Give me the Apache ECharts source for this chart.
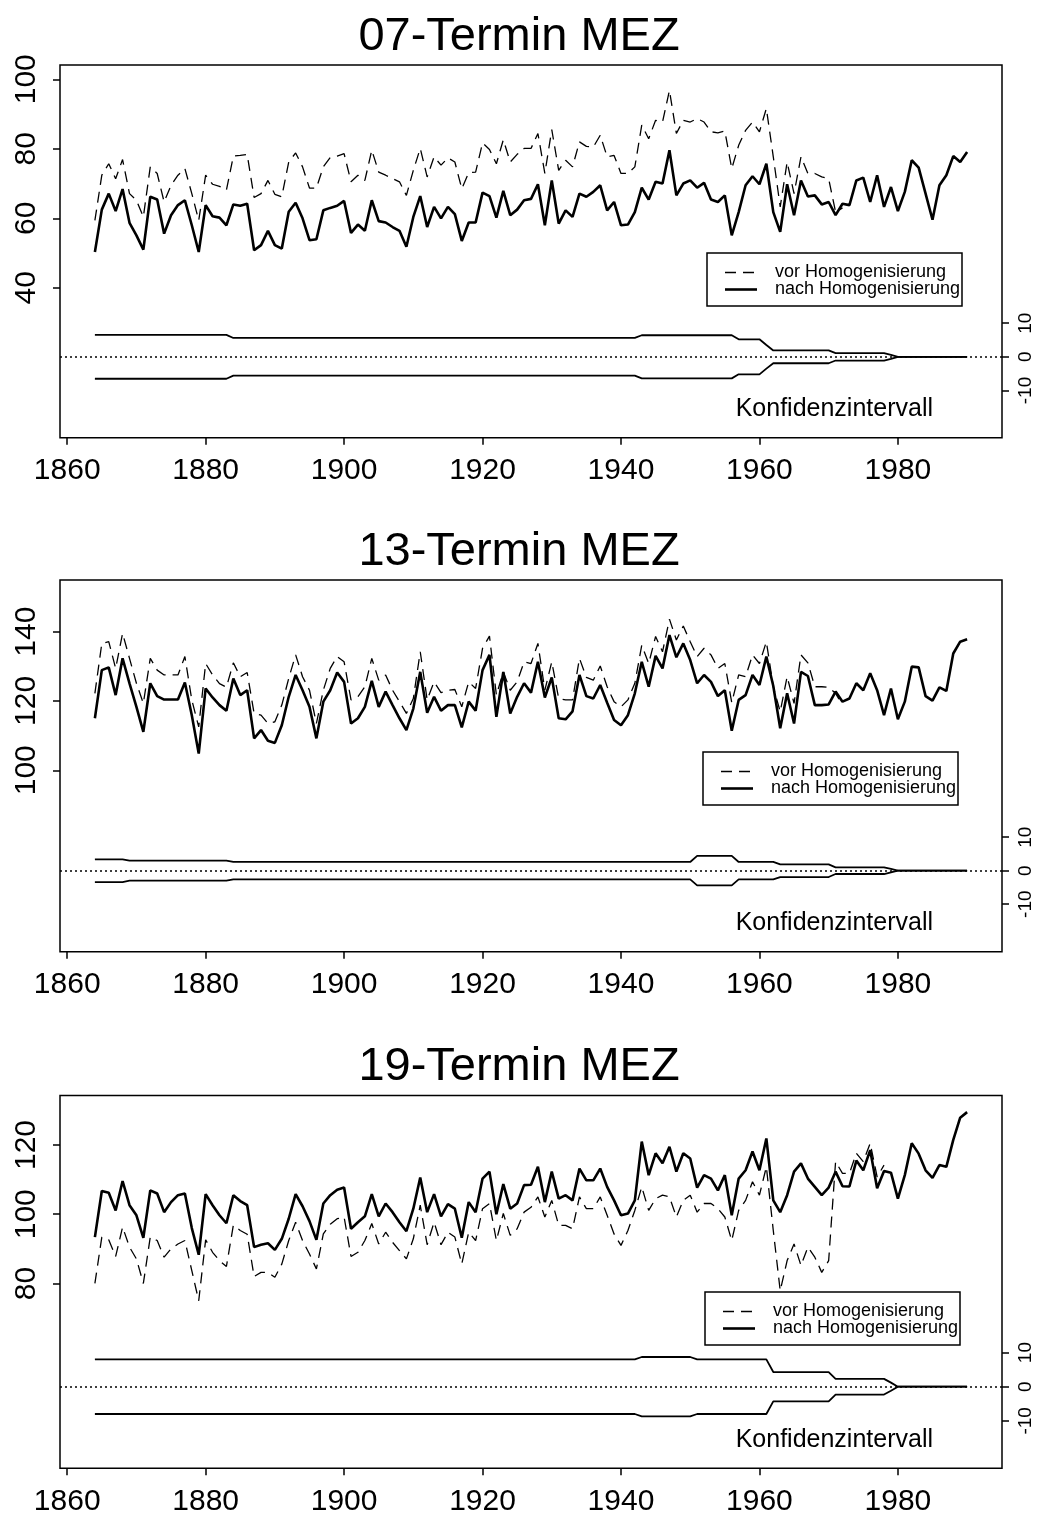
<!DOCTYPE html>
<html>
<head>
<meta charset="utf-8">
<title>Homogenisierung – Termine 07, 13, 19 MEZ</title>
<script src="https://cdn.jsdelivr.net/npm/echarts@6/dist/echarts.min.js"></script>
<style>
  html, body { margin: 0; padding: 0; background: #fff; }
  #chart { width: 1038px; height: 1523px; }
</style>
</head>
<body>
<div id="chart"></div>
<script>
// ---------------------------------------------------------------------------
// Data: yearly values 1864–1990, one value per year
// ---------------------------------------------------------------------------
const FIRST_YEAR = 1864;
const LAST_YEAR = 1990;

const xTicks = [1860, 1880, 1900, 1920, 1940, 1960, 1980];
const ciTicks = [-10, 0, 10];
const yTicks07 = [40, 60, 80, 100];
const yTicks13 = [100, 120, 140];
const yTicks19 = [80, 100, 120];

const titles = ['07-Termin MEZ', '13-Termin MEZ', '19-Termin MEZ'];
const seriesNames = ['vor Homogenisierung', 'nach Homogenisierung'];
const ciLabel = 'Konfidenzintervall';

// 07 MEZ
const vor07 = [
  59.4, 72.4, 75.7, 71.4, 76.9, 67.1,
  65.2, 60.4, 74.8, 72.9, 64.7, 69.5, 72.4, 74.3, 67.1, 59.4,
  72.4, 69.8, 69.2, 68.1, 77.9, 78.1, 78.4, 66.0, 67.1, 70.9,
  66.9, 66.2, 76.2, 78.8, 74.8, 68.7, 68.7, 74.8, 77.5, 77.9,
  78.6, 70.5, 72.4, 70.9, 79.6, 73.3, 72.4, 71.4, 70.5, 66.6,
  73.8, 80.1, 71.9, 77.7, 75.3, 77.4, 76.2, 68.5, 73.1, 73.3,
  81.7, 79.8, 75.7, 82.6, 76.2, 78.4, 80.1, 80.1, 84.4, 72.9,
  85.5, 73.8, 76.7, 74.8, 82.0, 80.7, 80.5, 83.9, 77.7, 78.1,
  72.9, 72.9, 74.8, 86.8, 82.9, 88.2, 87.7, 96.8, 84.4, 88.2,
  87.7, 88.7, 87.7, 84.9, 84.6, 85.1, 74.3, 81.0, 85.3, 87.7,
  84.9, 91.6, 77.7, 63.3, 76.2, 67.1, 77.7, 72.9, 72.9, 71.9,
  71.4, 61.8, 63.0, null, null, null, null, null, null, null,
  null, null, null, null, null, null, null, null, null, null,
  null
];
const nach07 = [
  50.3, 62.5, 67.1, 62.1, 68.4, 58.7,
  55.1, 51.0, 66.2, 65.4, 55.6, 60.9, 63.8, 65.2, 58.0, 50.3,
  63.8, 60.6, 60.2, 58.0, 64.0, 63.6, 64.2, 50.8, 52.3, 56.4,
  52.3, 51.3, 61.9, 64.5, 60.0, 53.7, 54.0, 62.3, 63.0, 63.6,
  65.0, 55.8, 58.2, 56.4, 65.2, 59.2, 58.8, 57.5, 56.4, 51.8,
  60.4, 66.4, 57.5, 63.3, 60.0, 63.3, 61.2, 53.5, 58.8, 58.8,
  67.4, 66.4, 60.2, 67.9, 60.9, 62.5, 65.2, 65.6, 69.8, 58.0,
  70.9, 58.5, 62.3, 60.4, 67.1, 66.2, 67.6, 69.5, 62.3, 64.7,
  58.0, 58.2, 61.8, 68.8, 65.4, 70.5, 70.0, 79.6, 66.6, 70.0,
  70.9, 68.8, 70.2, 65.4, 64.7, 66.6, 55.1, 61.8, 69.5, 72.1,
  69.8, 75.7, 61.8, 56.1, 69.8, 60.9, 70.9, 66.3, 66.6, 64.0,
  64.7, 60.9, 64.2, 63.8, 70.9, 71.7, 64.7, 72.4, 63.3, 69.0,
  62.1, 67.6, 76.7, 74.6, 67.1, 59.6, 69.5, 72.4, 77.9, 76.2,
  79.1
];
const ci07Upper = [
  6.5, 6.5, 6.5, 6.5, 6.5, 6.5,
  6.5, 6.5, 6.5, 6.5, 6.5, 6.5, 6.5, 6.5, 6.5, 6.5,
  6.5, 6.5, 6.5, 6.5, 5.6, 5.6, 5.6, 5.6, 5.6, 5.6,
  5.6, 5.6, 5.6, 5.6, 5.6, 5.6, 5.6, 5.6, 5.6, 5.6,
  5.6, 5.6, 5.6, 5.6, 5.6, 5.6, 5.6, 5.6, 5.6, 5.6,
  5.6, 5.6, 5.6, 5.6, 5.6, 5.6, 5.6, 5.6, 5.6, 5.6,
  5.6, 5.6, 5.6, 5.6, 5.6, 5.6, 5.6, 5.6, 5.6, 5.6,
  5.6, 5.6, 5.6, 5.6, 5.6, 5.6, 5.6, 5.6, 5.6, 5.6,
  5.6, 5.6, 5.6, 6.4, 6.4, 6.4, 6.4, 6.4, 6.4, 6.4,
  6.4, 6.4, 6.4, 6.4, 6.4, 6.4, 6.4, 5.2, 5.2, 5.2,
  5.2, 3.5, 1.9, 1.9, 1.9, 1.9, 1.9, 1.9, 1.9, 1.9,
  1.9, 1.1, 1.1, 1.1, 1.1, 1.1, 1.1, 1.1, 1.1, 0.6,
  0, 0, 0, 0, 0, 0, 0, 0, 0, 0,
  0
];
const ci07Lower = [
  -6.5, -6.5, -6.5, -6.5, -6.5, -6.5,
  -6.5, -6.5, -6.5, -6.5, -6.5, -6.5, -6.5, -6.5, -6.5, -6.5,
  -6.5, -6.5, -6.5, -6.5, -5.6, -5.6, -5.6, -5.6, -5.6, -5.6,
  -5.6, -5.6, -5.6, -5.6, -5.6, -5.6, -5.6, -5.6, -5.6, -5.6,
  -5.6, -5.6, -5.6, -5.6, -5.6, -5.6, -5.6, -5.6, -5.6, -5.6,
  -5.6, -5.6, -5.6, -5.6, -5.6, -5.6, -5.6, -5.6, -5.6, -5.6,
  -5.6, -5.6, -5.6, -5.6, -5.6, -5.6, -5.6, -5.6, -5.6, -5.6,
  -5.6, -5.6, -5.6, -5.6, -5.6, -5.6, -5.6, -5.6, -5.6, -5.6,
  -5.6, -5.6, -5.6, -6.4, -6.4, -6.4, -6.4, -6.4, -6.4, -6.4,
  -6.4, -6.4, -6.4, -6.4, -6.4, -6.4, -6.4, -5.2, -5.2, -5.2,
  -5.2, -3.5, -1.9, -1.9, -1.9, -1.9, -1.9, -1.9, -1.9, -1.9,
  -1.9, -1.1, -1.1, -1.1, -1.1, -1.1, -1.1, -1.1, -1.1, -0.6,
  0, 0, 0, 0, 0, 0, 0, 0, 0, 0,
  0
];

// 13 MEZ
const vor13 = [
  122.2, 136.6, 137.1, 129.4, 139.5, 132.3,
  125.1, 119.3, 132.3, 128.9, 127.5, 127.5, 127.5, 132.8, 120.3, 112.5,
  130.8, 127.5, 125.0, 124.0, 131.0, 127.0, 128.2, 116.4, 115.9, 113.5,
  114.0, 118.8, 126.5, 133.3, 127.0, 123.1, 113.5, 123.1, 129.4, 132.8,
  131.3, 120.3, 121.2, 124.1, 132.3, 126.0, 127.5, 123.1, 119.8, 116.4,
  120.7, 134.2, 120.3, 125.5, 122.4, 123.1, 123.3, 118.3, 125.5, 123.6,
  135.2, 138.7, 121.7, 128.4, 123.1, 125.5, 131.3, 130.8, 136.6, 123.1,
  131.3, 120.7, 120.3, 120.3, 132.3, 126.8, 126.0, 130.1, 124.1, 119.8,
  118.3, 120.3, 125.1, 136.1, 130.8, 138.6, 134.2, 143.6, 137.6, 141.6,
  137.1, 132.8, 135.2, 133.3, 129.4, 130.8, 119.5, 127.5, 127.0, 133.3,
  130.8, 137.1, 124.1, 116.9, 127.0, 119.3, 133.3, 131.0, 124.1, 124.1,
  123.9, 122.2, 118.8, null, null, null, null, null, null, null,
  null, null, null, null, null, null, null, null, null, null,
  null
];
const nach13 = [
  115.0, 128.9, 129.7, 121.7, 132.3, 125.1,
  118.3, 111.1, 125.1, 121.4, 120.4, 120.4, 120.4, 125.3, 115.9, 104.8,
  123.6, 121.0, 118.8, 117.2, 126.5, 121.7, 123.1, 109.2, 111.6, 108.5,
  107.9, 113.0, 121.2, 127.5, 123.1, 118.3, 109.2, 119.8, 123.1, 128.2,
  125.5, 113.5, 115.0, 118.3, 125.8, 118.3, 122.7, 118.8, 115.0, 111.6,
  117.8, 128.4, 116.6, 121.2, 117.2, 118.8, 118.8, 112.4, 119.8, 117.2,
  128.9, 133.3, 115.4, 128.4, 116.4, 121.2, 125.1, 122.4, 131.3, 121.0,
  126.8, 115.0, 114.7, 117.0, 127.5, 121.4, 120.7, 124.6, 119.5, 114.5,
  113.0, 115.9, 122.2, 131.3, 124.1, 133.0, 129.4, 139.0, 132.6, 136.6,
  131.8, 125.1, 127.5, 125.5, 121.4, 123.1, 111.4, 120.3, 121.7, 127.5,
  124.6, 132.8, 124.3, 112.1, 122.2, 113.5, 128.4, 127.2, 118.8, 118.8,
  119.0, 122.7, 119.8, 120.7, 125.1, 123.1, 128.0, 123.1, 115.9, 123.6,
  114.7, 119.8, 129.9, 129.7, 121.4, 120.1, 123.9, 122.9, 133.7, 137.1,
  137.8
];
const ci13Upper = [
  3.4, 3.4, 3.4, 3.4, 3.4, 3.0,
  3.0, 3.0, 3.0, 3.0, 3.0, 3.0, 3.0, 3.0, 3.0, 3.0,
  3.0, 3.0, 3.0, 3.0, 2.6, 2.6, 2.6, 2.6, 2.6, 2.6,
  2.6, 2.6, 2.6, 2.6, 2.6, 2.6, 2.6, 2.6, 2.6, 2.6,
  2.6, 2.6, 2.6, 2.6, 2.6, 2.6, 2.6, 2.6, 2.6, 2.6,
  2.6, 2.6, 2.6, 2.6, 2.6, 2.6, 2.6, 2.6, 2.6, 2.6,
  2.6, 2.6, 2.6, 2.6, 2.6, 2.6, 2.6, 2.6, 2.6, 2.6,
  2.6, 2.6, 2.6, 2.6, 2.6, 2.6, 2.6, 2.6, 2.6, 2.6,
  2.6, 2.6, 2.6, 2.6, 2.6, 2.6, 2.6, 2.6, 2.6, 2.6,
  2.6, 4.4, 4.4, 4.4, 4.4, 4.4, 4.4, 2.6, 2.6, 2.6,
  2.6, 2.6, 2.6, 1.9, 1.9, 1.9, 1.9, 1.9, 1.9, 1.9,
  1.9, 1.0, 1.0, 1.0, 1.0, 1.0, 1.0, 1.0, 1.0, 0.5,
  0, 0, 0, 0, 0, 0, 0, 0, 0, 0,
  0
];
const ci13Lower = [
  -3.4, -3.4, -3.4, -3.4, -3.4, -3.0,
  -3.0, -3.0, -3.0, -3.0, -3.0, -3.0, -3.0, -3.0, -3.0, -3.0,
  -3.0, -3.0, -3.0, -3.0, -2.6, -2.6, -2.6, -2.6, -2.6, -2.6,
  -2.6, -2.6, -2.6, -2.6, -2.6, -2.6, -2.6, -2.6, -2.6, -2.6,
  -2.6, -2.6, -2.6, -2.6, -2.6, -2.6, -2.6, -2.6, -2.6, -2.6,
  -2.6, -2.6, -2.6, -2.6, -2.6, -2.6, -2.6, -2.6, -2.6, -2.6,
  -2.6, -2.6, -2.6, -2.6, -2.6, -2.6, -2.6, -2.6, -2.6, -2.6,
  -2.6, -2.6, -2.6, -2.6, -2.6, -2.6, -2.6, -2.6, -2.6, -2.6,
  -2.6, -2.6, -2.6, -2.6, -2.6, -2.6, -2.6, -2.6, -2.6, -2.6,
  -2.6, -4.4, -4.4, -4.4, -4.4, -4.4, -4.4, -2.6, -2.6, -2.6,
  -2.6, -2.6, -2.6, -1.9, -1.9, -1.9, -1.9, -1.9, -1.9, -1.9,
  -1.9, -1.0, -1.0, -1.0, -1.0, -1.0, -1.0, -1.0, -1.0, -0.5,
  0, 0, 0, 0, 0, 0, 0, 0, 0, 0,
  0
];

// 19 MEZ
const vor19 = [
  80.0, 93.4, 92.6, 87.8, 96.3, 90.5,
  87.1, 80.0, 93.4, 92.4, 87.6, 90.0, 91.4, 92.4, 83.7, 75.0,
  92.6, 89.0, 86.6, 84.9, 96.8, 95.3, 94.2, 82.0, 83.2, 83.2,
  81.8, 85.6, 92.4, 97.7, 92.4, 88.5, 84.2, 94.3, 97.1, 98.7,
  99.2, 87.8, 89.0, 92.4, 97.3, 91.4, 94.8, 91.9, 89.5, 87.1,
  92.9, 102.6, 91.2, 97.7, 91.2, 94.8, 93.4, 85.6, 94.8, 92.4,
  101.6, 103.1, 92.4, 100.2, 93.9, 95.8, 100.6, 102.0, 105.0, 99.2,
  104.0, 96.8, 96.8, 95.8, 105.0, 101.6, 101.6, 105.0, 99.7, 94.3,
  91.0, 95.3, 101.1, 107.9, 101.1, 104.5, 105.5, 105.0, 99.2, 104.0,
  105.5, 100.6, 103.1, 103.1, 101.6, 99.2, 92.4, 101.1, 104.0, 109.4,
  105.5, 113.7, 95.3, 77.9, 86.6, 91.4, 85.2, 90.5, 87.6, 83.2,
  86.6, 115.2, 111.8, 111.8, 117.6, 115.2, 120.5, 110.8, 114.2, null,
  null, null, null, null, null, null, null, null, null, null,
  null
];
const nach19 = [
  93.4, 106.7, 106.2, 101.1, 109.6, 102.6,
  99.7, 93.2, 106.9, 106.0, 100.6, 103.5, 105.5, 106.0, 96.0, 88.3,
  105.8, 102.6, 99.7, 97.4, 105.5, 103.8, 102.6, 90.5, 91.2, 91.6,
  89.7, 92.9, 98.7, 105.8, 102.3, 98.0, 92.6, 103.1, 105.5, 107.1,
  107.7, 95.8, 97.7, 99.4, 105.8, 99.4, 103.1, 100.6, 97.7, 95.1,
  101.6, 110.6, 100.6, 105.8, 99.4, 102.9, 101.6, 93.2, 103.5, 100.6,
  110.3, 112.3, 100.0, 108.7, 101.6, 103.1, 108.4, 108.5, 113.7, 103.5,
  112.3, 104.5, 105.5, 104.0, 113.2, 109.8, 109.8, 113.2, 107.9, 104.0,
  99.7, 100.2, 104.0, 121.0, 111.3, 117.6, 114.7, 119.5, 112.3, 117.6,
  116.1, 107.7, 111.3, 110.3, 106.9, 111.3, 99.7, 110.3, 112.7, 118.1,
  112.7, 121.9, 104.0, 100.6, 105.5, 112.3, 114.7, 110.3, 107.9, 105.5,
  107.7, 112.3, 108.1, 108.0, 115.5, 112.7, 118.5, 107.5, 112.5, 112.0,
  104.5, 111.3, 120.5, 117.5, 112.7, 110.5, 114.2, 113.7, 121.5, 127.9,
  129.5
];
const ci19Upper = [
  8.0, 8.0, 8.0, 8.0, 8.0, 8.0,
  8.0, 8.0, 8.0, 8.0, 8.0, 8.0, 8.0, 8.0, 8.0, 8.0,
  8.0, 8.0, 8.0, 8.0, 8.0, 8.0, 8.0, 8.0, 8.0, 8.0,
  8.0, 8.0, 8.0, 8.0, 8.0, 8.0, 8.0, 8.0, 8.0, 8.0,
  8.0, 8.0, 8.0, 8.0, 8.0, 8.0, 8.0, 8.0, 8.0, 8.0,
  8.0, 8.0, 8.0, 8.0, 8.0, 8.0, 8.0, 8.0, 8.0, 8.0,
  8.0, 8.0, 8.0, 8.0, 8.0, 8.0, 8.0, 8.0, 8.0, 8.0,
  8.0, 8.0, 8.0, 8.0, 8.0, 8.0, 8.0, 8.0, 8.0, 8.0,
  8.0, 8.0, 8.0, 8.7, 8.7, 8.7, 8.7, 8.7, 8.7, 8.7,
  8.7, 8.0, 8.0, 8.0, 8.0, 8.0, 8.0, 8.0, 8.0, 8.0,
  8.0, 8.0, 4.3, 4.3, 4.3, 4.3, 4.3, 4.3, 4.3, 4.3,
  4.3, 2.3, 2.3, 2.3, 2.3, 2.3, 2.3, 2.3, 2.3, 1.2,
  0, 0, 0, 0, 0, 0, 0, 0, 0, 0,
  0
];
const ci19Lower = [
  -8.0, -8.0, -8.0, -8.0, -8.0, -8.0,
  -8.0, -8.0, -8.0, -8.0, -8.0, -8.0, -8.0, -8.0, -8.0, -8.0,
  -8.0, -8.0, -8.0, -8.0, -8.0, -8.0, -8.0, -8.0, -8.0, -8.0,
  -8.0, -8.0, -8.0, -8.0, -8.0, -8.0, -8.0, -8.0, -8.0, -8.0,
  -8.0, -8.0, -8.0, -8.0, -8.0, -8.0, -8.0, -8.0, -8.0, -8.0,
  -8.0, -8.0, -8.0, -8.0, -8.0, -8.0, -8.0, -8.0, -8.0, -8.0,
  -8.0, -8.0, -8.0, -8.0, -8.0, -8.0, -8.0, -8.0, -8.0, -8.0,
  -8.0, -8.0, -8.0, -8.0, -8.0, -8.0, -8.0, -8.0, -8.0, -8.0,
  -8.0, -8.0, -8.0, -8.7, -8.7, -8.7, -8.7, -8.7, -8.7, -8.7,
  -8.7, -8.0, -8.0, -8.0, -8.0, -8.0, -8.0, -8.0, -8.0, -8.0,
  -8.0, -8.0, -4.3, -4.3, -4.3, -4.3, -4.3, -4.3, -4.3, -4.3,
  -4.3, -2.3, -2.3, -2.3, -2.3, -2.3, -2.3, -2.3, -2.3, -1.2,
  0, 0, 0, 0, 0, 0, 0, 0, 0, 0,
  0
];

// ---------------------------------------------------------------------------
// Panel layout (pixel geometry and axis ranges)
// ---------------------------------------------------------------------------
const FONT = '"Liberation Sans", Arial, Helvetica, sans-serif';
const GRID_LEFT = 60;
const GRID_WIDTH = 942;
const X_MIN = 1858.96;
const X_MAX = 1995.04;

const panels = [
  { vor: vor07, nach: nach07, ciUp: ci07Upper, ciLo: ci07Lower, yTicks: yTicks07,
    top: 65, height: 372.7, yMin: -3.1, yMax: 104.1, rMin: -24.0, rMax: 86.6,
    titleTop: 14, legendLeft: 707, legendTop: 253, ciTextY: 409 },
  { vor: vor13, nach: nach13, ciUp: ci13Upper, ciLo: ci13Lower, yTicks: yTicks13,
    top: 580, height: 371.7, yMin: 47.65, yMax: 154.9, rMin: -24.2, rMax: 86.8,
    titleTop: 529, legendLeft: 703, legendTop: 752, ciTextY: 923 },
  { vor: vor19, nach: nach19, ciUp: ci19Upper, ciLo: ci19Lower, yTicks: yTicks19,
    top: 1095.5, height: 372.8, yMin: 26.6, yMax: 134.3, rMin: -23.9, rMax: 85.3,
    titleTop: 1044, legendLeft: 705, legendTop: 1292, ciTextY: 1440 }
];

const years = [];
for (let y = FIRST_YEAR; y <= LAST_YEAR; y++) years.push(y);
const pairs = (vals) => vals.map((v, i) => [years[i], v]);

// ---------------------------------------------------------------------------
// Option assembly
// ---------------------------------------------------------------------------
const option = {
  backgroundColor: '#ffffff',
  animation: false,
  textStyle: { fontFamily: FONT, color: '#000' },
  title: [],
  grid: [],
  xAxis: [],
  yAxis: [],
  series: [],
  graphic: []
};

panels.forEach((p, i) => {
  option.title.push({
    text: titles[i],
    left: 'center',
    top: p.titleTop,
    padding: 0,
    textStyle: { fontFamily: FONT, fontSize: 47, fontWeight: 'normal', color: '#000' }
  });

  option.grid.push({
    left: GRID_LEFT, top: p.top, width: GRID_WIDTH, height: p.height,
    show: true, borderColor: '#000', borderWidth: 1.5, backgroundColor: 'transparent'
  });

  option.xAxis.push({
    type: 'value', gridIndex: i, min: X_MIN, max: X_MAX, position: 'bottom',
    axisLine: { show: false, onZero: false },
    splitLine: { show: false },
    axisTick: { show: true, length: 7, customValues: xTicks, lineStyle: { color: '#000', width: 1.5 } },
    axisLabel: { customValues: xTicks, fontSize: 30, fontFamily: FONT, color: '#000', margin: 18,
                 formatter: (v) => String(v) }
  });

  // left axis: observation values
  option.yAxis.push({
    type: 'value', gridIndex: i, position: 'left', min: p.yMin, max: p.yMax,
    axisLine: { show: false, onZero: false },
    splitLine: { show: false },
    axisTick: { show: true, length: 7, customValues: p.yTicks, lineStyle: { color: '#000', width: 1.5 } },
    axisLabel: { customValues: p.yTicks, rotate: 90, fontSize: 30, fontFamily: FONT, color: '#000', margin: 18 }
  });
  // right axis: confidence interval
  option.yAxis.push({
    type: 'value', gridIndex: i, position: 'right', min: p.rMin, max: p.rMax,
    axisLine: { show: false, onZero: false },
    splitLine: { show: false },
    axisTick: { show: true, length: 7, customValues: ciTicks, lineStyle: { color: '#000', width: 1.5 } },
    axisLabel: { customValues: ciTicks, rotate: 90, fontSize: 19, fontFamily: FONT, color: '#000', margin: 14 }
  });

  const base = { type: 'line', xAxisIndex: i, showSymbol: false, symbol: 'none',
                 silent: true, connectNulls: false };

  option.series.push(Object.assign({}, base, {
    name: seriesNames[0], yAxisIndex: 2 * i, data: pairs(p.vor),
    lineStyle: { color: '#000', width: 1.3, type: [11, 7] }
  }));
  option.series.push(Object.assign({}, base, {
    name: seriesNames[1], yAxisIndex: 2 * i, data: pairs(p.nach),
    lineStyle: { color: '#000', width: 2.6, type: 'solid' }
  }));
  option.series.push(Object.assign({}, base, {
    name: ciLabel + ' oben', yAxisIndex: 2 * i + 1, data: pairs(p.ciUp),
    lineStyle: { color: '#000', width: 1.8 },
    markLine: {
      silent: true, symbol: 'none', label: { show: false },
      lineStyle: { color: '#000', width: 1.6, type: [2, 3] },
      data: [{ yAxis: 0 }]
    }
  }));
  option.series.push(Object.assign({}, base, {
    name: ciLabel + ' unten', yAxisIndex: 2 * i + 1, data: pairs(p.ciLo),
    lineStyle: { color: '#000', width: 1.8 }
  }));

  // legend box: group placed at its own origin, children in local coordinates
  option.graphic.push({
    type: 'group', x: p.legendLeft, y: p.legendTop, silent: true, z: 100,
    children: [
      { type: 'rect', shape: { x: 0, y: 0, width: 255, height: 53 },
        style: { fill: '#fff', stroke: '#000', lineWidth: 1.5 } },
      { type: 'line', shape: { x1: 18, y1: 19.5, x2: 50, y2: 19.5 },
        style: { stroke: '#000', lineWidth: 1.3, lineDash: [11, 7] } },
      { type: 'line', shape: { x1: 18, y1: 36.5, x2: 50, y2: 36.5 },
        style: { stroke: '#000', lineWidth: 2.6 } },
      { type: 'text', x: 68, y: 19.5,
        style: { text: seriesNames[0], fill: '#000', font: '18px ' + FONT, verticalAlign: 'middle' } },
      { type: 'text', x: 68, y: 36.5,
        style: { text: seriesNames[1], fill: '#000', font: '18px ' + FONT, verticalAlign: 'middle' } }
    ]
  });
  option.graphic.push({
    type: 'text', x: 933, y: p.ciTextY, silent: true,
    style: { text: ciLabel, fill: '#000', font: '25px ' + FONT, align: 'right', verticalAlign: 'middle' }
  });
});

const chart = echarts.init(document.getElementById('chart'), null, { renderer: 'canvas' });
chart.setOption(option);
</script>
</body>
</html>
